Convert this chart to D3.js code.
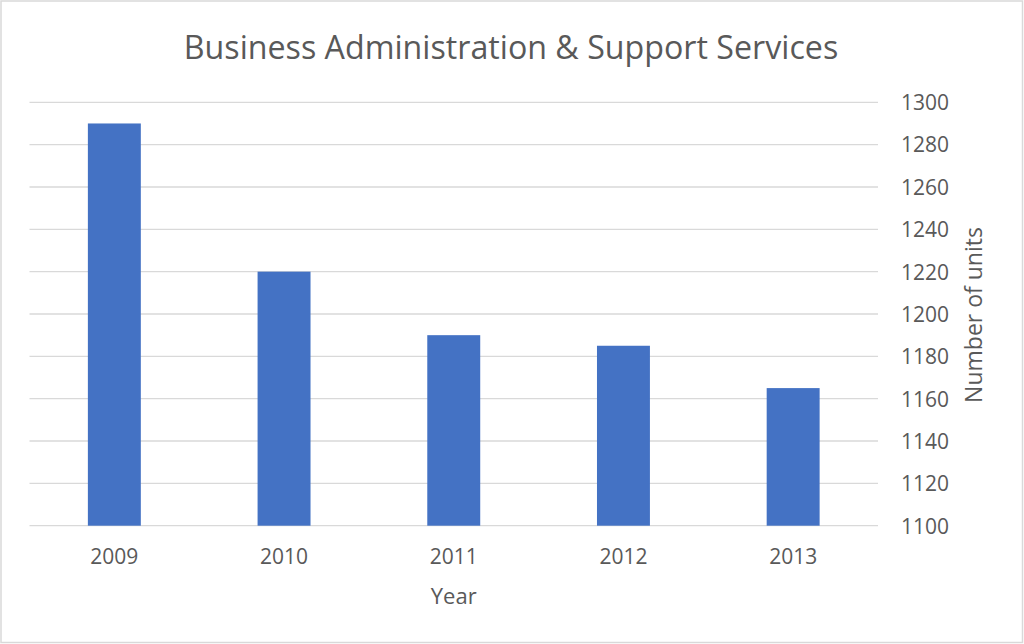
<!DOCTYPE html>
<html>
<head>
<meta charset="utf-8">
<script src="https://cdn.jsdelivr.net/npm/d3@7"></script>
<style>
  html, body { margin: 0; padding: 0; background: #fff; }
  svg { display: block; }
  text { font-family: "Open Sans", "Noto Sans", sans-serif; fill: #595959; }
</style>
</head>
<body>
<svg id="chart" width="1024" height="644"></svg>
<script>
// Units per year, Business Administration & Support Services
const years = ["2009", "2010", "2011", "2012", "2013"];
const units = [1290, 1220, 1190, 1185, 1165];
const yTicks = [1100, 1120, 1140, 1160, 1180, 1200, 1220, 1240, 1260, 1280, 1300];

const chartTitle = "Business Administration & Support Services";
const xTitle = "Year";
const yTitle = "Number of units";

const W = 1024, H = 644;
const plot = { left: 29.5, right: 878, top: 102.3, bottom: 525.7 };

const svg = d3.select("#chart");

// chart frame
svg.append("rect")
  .attr("x", 1).attr("y", 1)
  .attr("width", W - 2.5).attr("height", H - 2.5)
  .attr("fill", "#fff")
  .attr("stroke", "#d9d9d9")
  .attr("stroke-width", 1.5);

const x = d3.scaleBand()
  .domain(years)
  .range([plot.left, plot.right])
  .paddingInner(0.688)
  .paddingOuter(0.344);

const y = d3.scaleLinear()
  .domain([1100, 1300])
  .range([plot.bottom, plot.top]);

// horizontal gridlines
svg.append("g")
  .selectAll("line")
  .data(yTicks)
  .join("line")
  .attr("x1", plot.left).attr("x2", plot.right)
  .attr("y1", d => y(d)).attr("y2", d => y(d))
  .attr("stroke", "#d9d9d9")
  .attr("stroke-width", 1.3);

// bars
svg.append("g")
  .selectAll("rect")
  .data(years.map((yr, i) => ({ yr, v: units[i] })))
  .join("rect")
  .attr("x", d => x(d.yr))
  .attr("width", x.bandwidth())
  .attr("y", d => y(d.v))
  .attr("height", d => y(1100) - y(d.v))
  .attr("fill", "#4472c4");

// right-hand value axis
const yAxis = d3.axisRight(y).tickValues(yTicks).tickSize(0).tickPadding(0).tickFormat(d3.format("d"));
const gy = svg.append("g")
  .attr("transform", `translate(901,0)`)
  .call(yAxis);
gy.select(".domain").remove();
gy.selectAll("text")
  .attr("font-size", 21)
  .attr("fill", "#595959")
  .attr("font-family", '"Open Sans", sans-serif')
  .attr("dy", "0.35em");

// category axis
const xAxis = d3.axisBottom(x).tickSize(0).tickPadding(0);
const gx = svg.append("g")
  .attr("transform", `translate(0,${plot.bottom})`)
  .call(xAxis);
gx.select(".domain").remove();
gx.selectAll("text")
  .attr("font-size", 21)
  .attr("fill", "#595959")
  .attr("font-family", '"Open Sans", sans-serif')
  .attr("dy", null)
  .attr("y", 38.5);

// titles
svg.append("text")
  .attr("x", (185 + 837) / 2)
  .attr("y", 59.3)
  .attr("text-anchor", "middle")
  .attr("font-size", 32.2)
  .text(chartTitle);

svg.append("text")
  .attr("x", (plot.left + plot.right) / 2)
  .attr("y", 604)
  .attr("text-anchor", "middle")
  .attr("font-size", 22)
  .text(xTitle);

svg.append("text")
  .attr("transform", `translate(982,315) rotate(-90)`)
  .attr("text-anchor", "middle")
  .attr("font-size", 23)
  .text(yTitle);
</script>
</body>
</html>
